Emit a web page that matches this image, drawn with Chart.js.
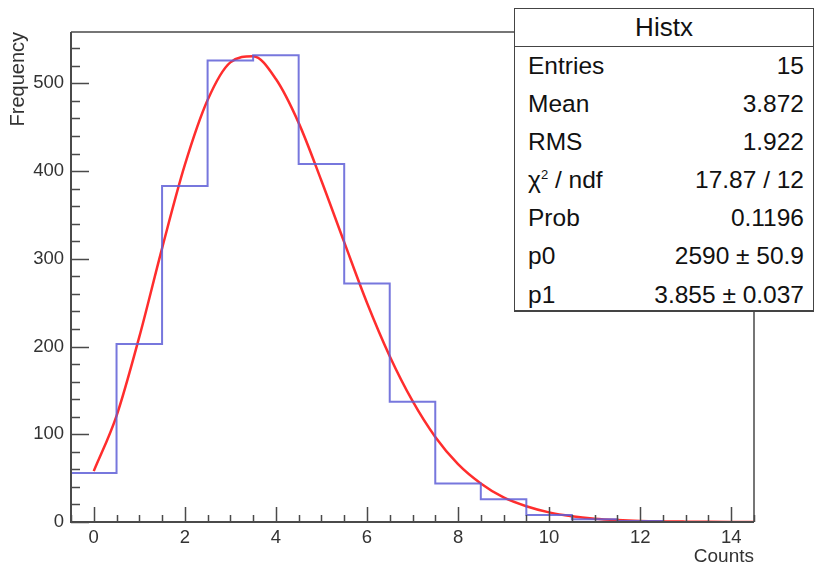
<!DOCTYPE html>
<html>
<head>
<meta charset="utf-8">
<script src="https://cdn.jsdelivr.net/npm/chart.js@4.4.1/dist/chart.umd.min.js"></script>
<style>
  html, body { margin: 0; padding: 0; background: #fff; }
  #wrap { position: relative; width: 816px; height: 568px; overflow: hidden; }
  #c { position: absolute; left: 0; top: 0; }
  #stats { position: absolute; left: 514px; top: 8px; width: 300px; height: 304px;
           border: 1.5px solid #444; border-bottom-width: 2.5px; background: #fff;
           font-family: "Liberation Sans", Arial, Helvetica, sans-serif; color: #111; box-sizing: border-box; }
  #stats .title { height: 37px; line-height: 37px; text-align: center; font-size: 26px; border-bottom: 1.5px solid #444; }
  #stats .row { display: flex; justify-content: space-between; height: 38.1px; line-height: 38px; font-size: 24.5px; padding: 0 9px 0 13px; }
  #stats sup { font-size: 13px; vertical-align: 9px; line-height: 0; }
</style>
</head>
<body>
<div id="wrap">
  <canvas id="c" width="816" height="568"></canvas>
  <div id="stats"></div>
</div>
<script>
// ---- data ----
const binCenters = [0, 1, 2, 3, 4, 5, 6, 7, 8, 9, 10, 11, 12, 13, 14];
const binCounts  = [56, 203, 383, 526, 532, 408, 272, 137, 44, 26, 8, 3, 1, 0, 0];
const binWidth = 1;

const fitX = [0, 0.5, 1, 1.5, 2, 2.5, 3, 3.5, 4, 4.5, 5, 5.5, 6, 6.5, 7, 7.5, 8, 8.5, 9, 9.5, 10, 10.5, 11, 11.5, 12, 12.5, 13, 13.5, 14, 14.5];
const fitY = [58, 121, 211, 312, 407, 481, 524, 531, 505, 455, 389, 319, 250, 189, 138, 97, 66, 44, 28, 18, 11, 6.6, 3.8, 2.2, 1.2, 0.7, 0.4, 0.2, 0.1, 0.05];

const xTickValues = [0, 2, 4, 6, 8, 10, 12, 14];
const yTickValues = [0, 100, 200, 300, 400, 500];

const statsTitle = "Histx";
const statsLabels = ["Entries", "Mean", "RMS", "χ<sup>2</sup> / ndf", "Prob", "p0", "p1"];
const statsValues = ["15", "3.872", "1.922", "17.87 / 12", "0.1196", "2590 ± 50.9", "3.855 ± 0.037"];

const xRange = [-0.5, 14.5];
const yRange = [0, 558.6];

// ---- stats box ----
const sb = document.getElementById('stats');
let html = '<div class="title">' + statsTitle + '</div>';
statsLabels.forEach((l, i) => {
  html += '<div class="row"><span>' + l + '</span><span>' + statsValues[i] + '</span></div>';
});
sb.innerHTML = html;

// ---- histogram outline points (bin edges) ----
const histPts = binCenters.map((c, i) => ({ x: c - binWidth / 2, y: binCounts[i] }));
histPts.push({ x: binCenters[binCenters.length - 1] + binWidth / 2, y: binCounts[binCounts.length - 1] });
const fitPts = fitX.map((x, i) => ({ x: x, y: fitY[i] }));

const AXIS = '#4a4a4a';
const FONT = "'Liberation Sans', Arial, Helvetica, sans-serif";

const framePlugin = {
  id: 'rootFrame',
  afterDatasetsDraw(chart) {
    const { ctx, chartArea: a, scales: { x, y } } = chart;
    ctx.save();
    ctx.strokeStyle = AXIS;
    ctx.lineWidth = 1.5;
    ctx.beginPath();
    ctx.moveTo(a.left, a.top); ctx.lineTo(a.right, a.top); ctx.lineTo(a.right, a.bottom);
    ctx.stroke();
    ctx.lineWidth = 2;
    ctx.beginPath();
    ctx.moveTo(a.left, a.top); ctx.lineTo(a.left, a.bottom); ctx.lineTo(a.right, a.bottom);
    ctx.stroke();
    ctx.lineWidth = 1.5;
    ctx.beginPath();
    for (let v = xRange[0]; v <= xRange[1] + 1e-9; v += 0.5) {
      const px = Math.round(x.getPixelForValue(v)) + 0.5;
      const major = xTickValues.includes(v);
      const len = major ? 15 : 7;
      ctx.moveTo(px, a.bottom); ctx.lineTo(px, a.bottom - len);
    }
    for (let v = 0; v <= yRange[1]; v += 20) {
      const py = Math.round(y.getPixelForValue(v)) + 0.5;
      const major = yTickValues.includes(v);
      const len = major ? 18 : 9;
      ctx.moveTo(a.left, py); ctx.lineTo(a.left + len, py);
    }
    ctx.stroke();
    ctx.restore();
  }
};

new Chart(document.getElementById('c'), {
  type: 'line',
  data: {
    datasets: [
      { label: 'Histx', data: histPts, stepped: 'before', borderColor: 'rgba(95,95,215,0.85)', borderWidth: 2,
        pointRadius: 0, fill: false },
      { label: 'fit', data: fitPts, borderColor: 'rgb(255,45,45)', borderWidth: 2.5, pointRadius: 0,
        fill: false, cubicInterpolationMode: 'monotone' }
    ]
  },
  options: {
    responsive: false,
    animation: false,
    events: [],
    layout: { padding: { left: 0, top: 32, right: 62, bottom: 0 } },
    plugins: { legend: { display: false }, tooltip: { enabled: false } },
    scales: {
      x: {
        type: 'linear', min: xRange[0], max: xRange[1],
        afterFit(s) { s.height = 46; },
        afterBuildTicks(s) { s.ticks = xTickValues.map(v => ({ value: v })); },
        grid: { display: false, drawTicks: false },
        border: { display: false },
        ticks: { padding: 5, color: '#333', font: { family: FONT, size: 18.5 }, maxRotation: 0, autoSkip: false },
        title: { display: true, text: 'Counts', align: 'end', color: '#333',
                 font: { family: FONT, size: 19 }, padding: { top: 0, bottom: 0 } }
      },
      y: {
        type: 'linear', min: yRange[0], max: yRange[1],
        afterFit(s) { s.width = 71; },
        afterBuildTicks(s) { s.ticks = yTickValues.map(v => ({ value: v })); },
        grid: { display: false, drawTicks: false },
        border: { display: false },
        ticks: { padding: 7, color: '#333', font: { family: FONT, size: 18.5 }, autoSkip: false },
        title: { display: true, text: 'Frequency', align: 'end', color: '#333',
                 font: { family: FONT, size: 20 }, padding: { top: 6, bottom: 0 } }
      }
    }
  },
  plugins: [framePlugin]
});
</script>
</body>
</html>
